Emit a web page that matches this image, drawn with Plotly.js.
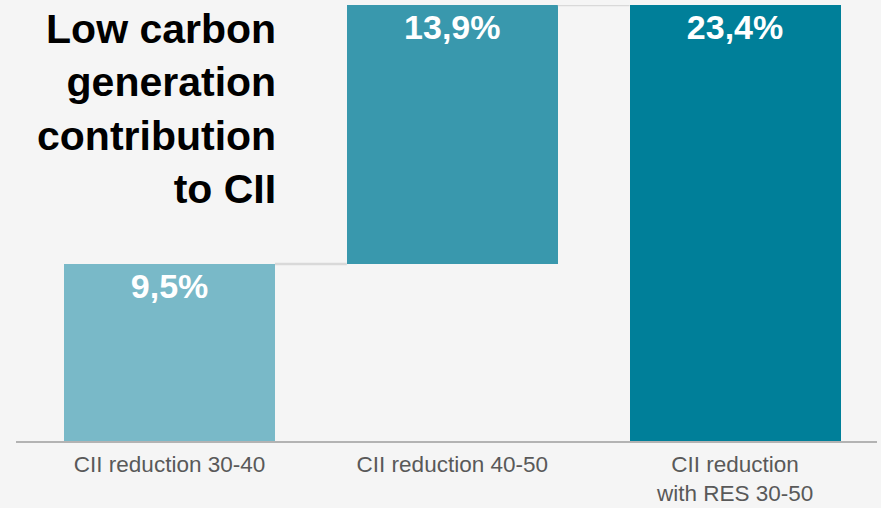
<!DOCTYPE html>
<html>
<head>
<meta charset="utf-8">
<script src="https://cdn.plot.ly/plotly-3.0.1.min.js"></script>
<style>
  html, body { margin: 0; padding: 0; background: #f5f5f5; }
  #chart { width: 881px; height: 508px; }
</style>
</head>
<body>
<div id="chart"></div>
<script>
const categories = ['CII reduction 30-40', 'CII reduction 40-50', 'CII reduction<br>with RES 30-50'];
const values = [9.5, 13.9, 23.4];
const bases = [0, 9.5, 0];
const valueLabels = ['9,5%', '13,9%', '23,4%'];
const barColors = ['#79b9c8', '#3998ad', '#007f99'];
const chartTitle = 'Low carbon<br>generation<br>contribution<br>to CII';

const barWidth = 0.746;
const xIdx = categories.map((c, i) => i);

const bars = {
  type: 'bar',
  x: xIdx,
  y: values,
  base: bases,
  width: barWidth,
  marker: { color: barColors, line: { width: 0 } },
  text: valueLabels,
  textposition: 'inside',
  insidetextanchor: 'end',
  textangle: 0,
  textfont: { family: 'Liberation Sans, Arial, sans-serif', size: 34, color: '#ffffff', weight: 'bold' },
  hoverinfo: 'skip',
  showlegend: false
};

// connectors between consecutive bars, at the running level
const connectors = [];
for (let i = 0; i < values.length - 1; i++) {
  const level = bases[i] + values[i];
  connectors.push({
    type: 'scatter',
    mode: 'lines',
    x: [i + barWidth / 2, i + 1 - barWidth / 2],
    y: [level, level],
    line: { color: '#d9d9d9', width: 2.5 },
    cliponaxis: false,
    hoverinfo: 'skip',
    showlegend: false
  });
}

const layout = {
  width: 881,
  height: 508,
  margin: { l: 16, r: 4, t: 5, b: 67 },
  paper_bgcolor: '#f5f5f5',
  plot_bgcolor: '#f5f5f5',
  bargap: 0,
  xaxis: {
    range: [-0.543, 2.502],
    tickmode: 'array',
    tickvals: xIdx,
    ticktext: categories,
    showgrid: false,
    zeroline: false,
    showline: true,
    linecolor: '#b3b3b3',
    linewidth: 2,
    ticks: 'outside',
    ticklen: 2,
    tickcolor: 'rgba(0,0,0,0)',
    tickfont: { family: 'Liberation Sans, Arial, sans-serif', size: 22.5, color: '#595959' }
  },
  yaxis: {
    range: [0, 23.4],
    visible: false,
    fixedrange: true
  },
  annotations: [{
    xref: 'paper', yref: 'paper',
    x: 0.304, y: 1.0,
    xanchor: 'right', yanchor: 'top',
    align: 'right',
    yshift: 1,
    showarrow: false,
    text: chartTitle,
    font: { family: 'Liberation Sans, Arial, sans-serif', size: 41, color: '#000000', weight: 'bold' }
  }]
};

Plotly.newPlot('chart', [...connectors, bars], layout, { displayModeBar: false, staticPlot: true });
</script>
</body>
</html>
